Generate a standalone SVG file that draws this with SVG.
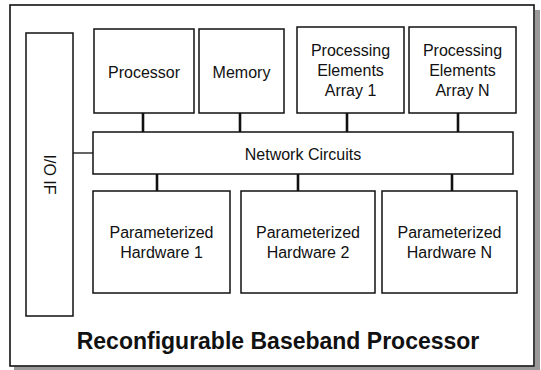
<svg xmlns="http://www.w3.org/2000/svg" width="541" height="370" viewBox="0 0 541 370">
  <style>
    .box { fill: #ffffff; stroke: #111111; stroke-width: 1.5; }
    .frame { fill: #ffffff; stroke: #111111; stroke-width: 1.6; }
    .lbl { font-family: "Liberation Sans", Arial, sans-serif; font-size: 16px; fill: #111111; text-anchor: middle; }
    .title { font-family: "Liberation Sans", Arial, sans-serif; font-size: 23px; font-weight: bold; fill: #111111; text-anchor: middle; }
    .bus { stroke: #111111; stroke-width: 2.6; fill: none; }
    .thin { stroke: #111111; stroke-width: 1.3; fill: none; }
  </style>

  <rect width="541" height="370" fill="#ffffff"/>

  <!-- outer chip boundary with drop shadow -->
  <g id="chip">
    <rect x="535" y="10" width="5" height="360" fill="#9a9a9a"/>
    <rect x="14" y="366.5" width="526" height="3.5" fill="#9a9a9a"/>
    <rect class="frame" x="10" y="5" width="524" height="361"/>
    <text class="title" x="278" y="348.5">Reconfigurable Baseband Processor</text>
  </g>

  <!-- connectors -->
  <g id="connectors">
    <line class="bus" x1="143" y1="113" x2="143" y2="132"/>
    <line class="bus" x1="240" y1="113" x2="240" y2="132"/>
    <line class="bus" x1="347" y1="113" x2="347" y2="132"/>
    <line class="bus" x1="458" y1="113" x2="458" y2="132"/>
    <line class="bus" x1="157" y1="174" x2="157" y2="191"/>
    <line class="bus" x1="298" y1="174" x2="298" y2="191"/>
    <line class="bus" x1="452" y1="174" x2="452" y2="191"/>
    <line class="thin" x1="73" y1="153" x2="93" y2="153"/>
  </g>

  <g id="io-if">
    <rect class="box" x="26" y="33" width="47" height="283"/>
    <text class="lbl" transform="translate(44 174.5) rotate(90)">I/O IF</text>
  </g>

  <g id="processor">
    <rect class="box" x="94" y="29" width="100" height="84"/>
    <text class="lbl" x="144" y="77.5">Processor</text>
  </g>

  <g id="memory">
    <rect class="box" x="199" y="29" width="85" height="84"/>
    <text class="lbl" x="241.5" y="77.5">Memory</text>
  </g>

  <g id="pe-array-1">
    <rect class="box" x="297" y="27" width="107" height="86"/>
    <text class="lbl" x="350.5" y="56">Processing</text>
    <text class="lbl" x="350.5" y="76">Elements</text>
    <text class="lbl" x="350.5" y="96">Array 1</text>
  </g>

  <g id="pe-array-n">
    <rect class="box" x="409" y="27" width="107" height="86"/>
    <text class="lbl" x="462.5" y="56">Processing</text>
    <text class="lbl" x="462.5" y="76">Elements</text>
    <text class="lbl" x="462.5" y="96">Array N</text>
  </g>

  <g id="network-circuits">
    <rect class="box" x="93" y="132" width="420" height="42"/>
    <text class="lbl" x="303" y="159.5">Network Circuits</text>
  </g>

  <g id="param-hw-1">
    <rect class="box" x="93" y="191" width="137" height="102"/>
    <text class="lbl" x="161.5" y="238">Parameterized</text>
    <text class="lbl" x="161.5" y="258">Hardware 1</text>
  </g>

  <g id="param-hw-2">
    <rect class="box" x="241" y="191" width="134" height="102"/>
    <text class="lbl" x="308" y="238">Parameterized</text>
    <text class="lbl" x="308" y="258">Hardware 2</text>
  </g>

  <g id="param-hw-n">
    <rect class="box" x="382" y="191" width="135" height="102"/>
    <text class="lbl" x="449.5" y="238">Parameterized</text>
    <text class="lbl" x="449.5" y="258">Hardware N</text>
  </g>
</svg>
